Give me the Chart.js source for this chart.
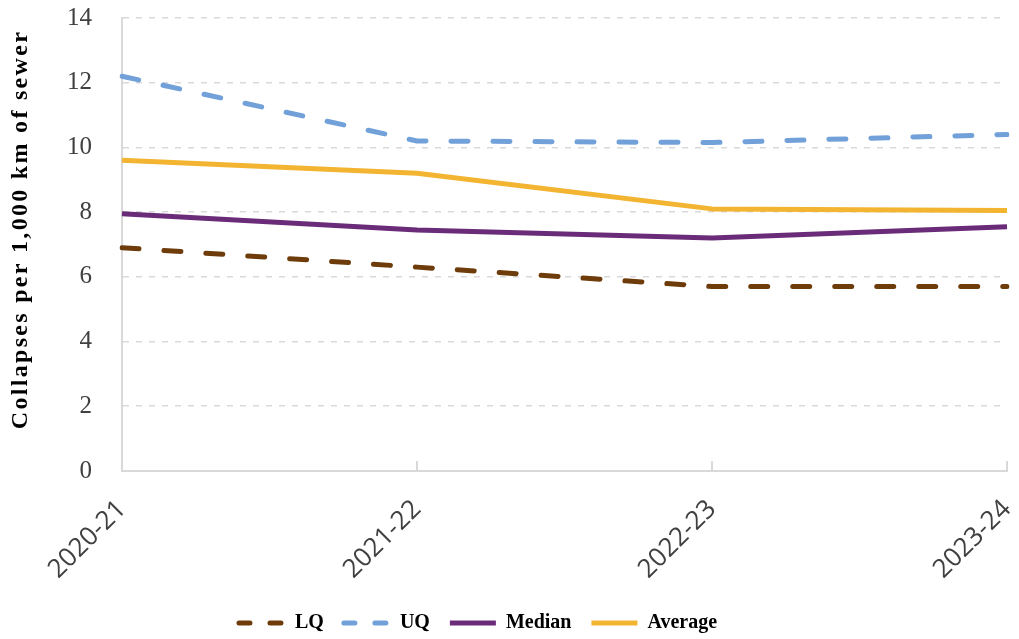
<!DOCTYPE html>
<html>
<head>
<meta charset="utf-8">
<title>Sewer collapses per 1,000 km</title>
<script src="https://cdn.jsdelivr.net/npm/chart.js@4/dist/chart.umd.min.js"></script>
<style>
  html, body { margin: 0; padding: 0; background: #ffffff; }
  #wrap { width: 1019px; height: 639px; position: relative; }
</style>
</head>
<body>
<div id="wrap"><canvas id="chart"></canvas></div>
<script>
// Reporting years
const years = ['2020-21', '2021-22', '2022-23', '2023-24'];

// Collapses per 1,000 km of sewer
const lowerQuartile = [6.9, 6.3, 5.7, 5.7];
const upperQuartile = [12.2, 10.2, 10.15, 10.4];
const median = [7.95, 7.45, 7.2, 7.55];
const average = [9.6, 9.2, 8.1, 8.05];

// Value axis
const yMin = 0;
const yMax = 14;
const yStep = 2;
const yTitle = 'Collapses per 1,000 km of sewer';

const DASH = [17, 25];
const LEGEND_DASH = [11, 20];
const TICK_TEXT = '#404040';

// Axis title with letter spacing, drawn beside the value axis
const yTitlePlugin = {
  id: 'yTitle',
  afterDraw(chart) {
    const { ctx, chartArea } = chart;
    ctx.save();
    ctx.font = 'bold 24px "Liberation Serif", "Times New Roman", serif';
    if ('letterSpacing' in ctx) ctx.letterSpacing = '2.3px';
    ctx.fillStyle = '#000000';
    ctx.textAlign = 'center';
    ctx.textBaseline = 'middle';
    ctx.translate(21, chartArea.top + (chartArea.bottom - chartArea.top) * 0.467);
    ctx.rotate(-Math.PI / 2);
    ctx.fillText(yTitle, 0, 0);
    ctx.restore();
  }
};

// Place the legend row: a little left of centre
const legendShift = {
  id: 'legendShift',
  afterLayout(chart) {
    const lg = chart.legend;
    if (lg) {
      lg.left -= 50; lg.right -= 50;
      lg.top -= 25; lg.bottom -= 25;
    }
  }
};

const ds = (label, data, color, dashed) => ({
  label,
  data,
  borderColor: color,
  backgroundColor: color,
  borderWidth: 5,
  borderDash: dashed ? DASH : [],
  borderCapStyle: dashed ? 'round' : 'butt',
  borderJoinStyle: 'round',
  pointRadius: 0,
  pointHoverRadius: 0,
  tension: 0,
  fill: false
});

new Chart(document.getElementById('chart'), {
  type: 'line',
  data: {
    labels: years,
    datasets: [
      ds('LQ', lowerQuartile, '#6E3C0A', true),
      ds('UQ', upperQuartile, '#71A1D8', true),
      ds('Median', median, '#6A2C78', false),
      ds('Average', average, '#F2B431', false)
    ]
  },
  options: {
    responsive: true,
    maintainAspectRatio: false,
    animation: false,
    devicePixelRatio: 1,
    layout: { padding: { left: 37, right: 0, top: 0, bottom: -29 } },
    plugins: {
      tooltip: { enabled: false },
      legend: {
        position: 'bottom',
        labels: {
          usePointStyle: true,
          pointStyle: 'line',
          pointStyleWidth: 46,
          padding: 20,
          color: '#000000',
          font: { family: '"Liberation Serif", "Times New Roman", serif', size: 20, weight: 'bold' },
          generateLabels(chart) {
            return chart.data.datasets.map((d, i) => ({
              text: d.label,
              fillStyle: d.borderColor,
              strokeStyle: d.borderColor,
              lineWidth: 5,
              lineDash: d.borderDash.length ? LEGEND_DASH : [],
              lineCap: d.borderDash.length ? 'round' : 'butt',
              pointStyle: 'line',
              hidden: !chart.isDatasetVisible(i),
              datasetIndex: i,
              fontColor: '#000000'
            }));
          }
        }
      }
    },
    scales: {
      x: {
        offset: false,
        afterFit(scale) { scale.paddingRight = 12; },
        grid: {
          display: true,
          drawOnChartArea: false,
          drawTicks: true,
          tickLength: -10,
          color: '#d9d9d9',
          lineWidth: 2
        },
        border: { display: true, color: '#d9d9d9', width: 2 },
        ticks: {
          minRotation: 45,
          maxRotation: 45,
          padding: 33,
          color: TICK_TEXT,
          font: { family: '"Open Sans", "DejaVu Sans", sans-serif', size: 26 }
        }
      },
      y: {
        min: yMin,
        max: yMax,
        afterFit(scale) { scale.paddingTop = 18; },
        grid: {
          display: true,
          drawTicks: false,
          color: '#d9d9d9',
          lineWidth: 1.5
        },
        border: { display: true, color: '#d9d9d9', width: 2, dash: [6, 7] },
        ticks: {
          stepSize: yStep,
          padding: 30,
          color: TICK_TEXT,
          font: { family: '"Liberation Serif", "Times New Roman", serif', size: 25 }
        }
      }
    }
  },
  plugins: [yTitlePlugin, legendShift]
});
</script>
</body>
</html>
